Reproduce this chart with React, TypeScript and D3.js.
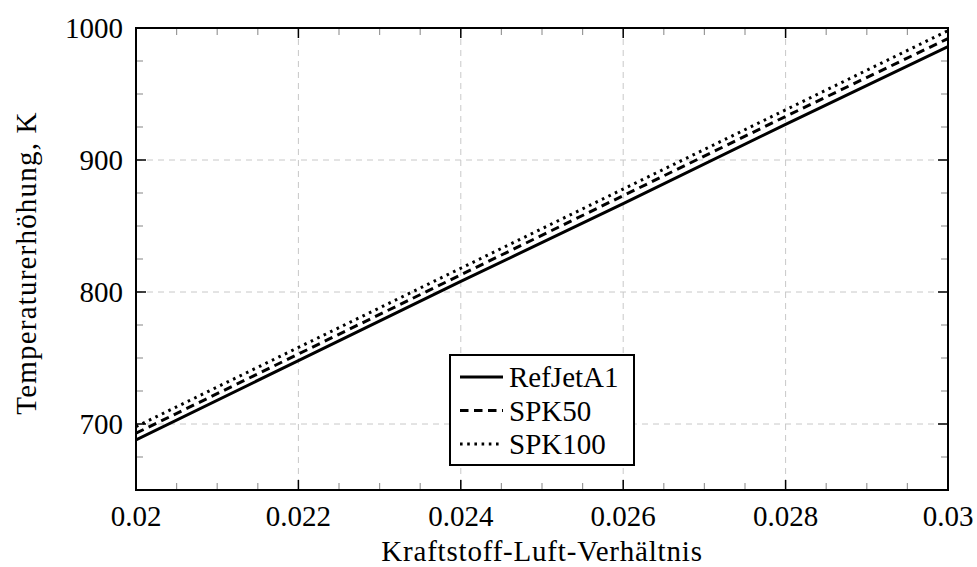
import React from "react";
import * as d3 from "d3";

const xValues = [0.02, 0.022, 0.024, 0.026, 0.028, 0.03];
const refJetA1 = [688, 748, 808, 867, 927, 986];
const spk50 = [693, 753, 813, 873, 933, 992];
const spk100 = [698, 758, 818, 878, 938, 998];
const seriesNames = ["RefJetA1", "SPK50", "SPK100"];
const xTicks = [0.02, 0.022, 0.024, 0.026, 0.028, 0.03];
const xTickLabels = ["0.02", "0.022", "0.024", "0.026", "0.028", "0.03"];
const yTicks = [700, 800, 900, 1000];
const xTitle = "Kraftstoff-Luft-Verhältnis";
const yTitle = "Temperaturerhöhung, K";

const W = 977;
const H = 567;
const M = { left: 136, right: 948, top: 28, bottom: 490 };
const FONT = "'Liberation Serif', serif";
const FS = 29;

export default function App() {
  const x = d3.scaleLinear().domain([0.02, 0.03]).range([M.left, M.right]);
  const y = d3.scaleLinear().domain([650, 1000]).range([M.bottom, M.top]);
  const line = d3
    .line<[number, number]>()
    .x((d) => x(d[0]))
    .y((d) => y(d[1]));
  const series = [refJetA1, spk50, spk100];
  const dashes = [undefined, "8.5,5.5", "2.6,4.6"];

  const xMinor = d3.range(0, 21).map((i) => 0.02 + i * 0.0005).filter((_, i) => i % 4 !== 0);
  const yMinor = d3.range(0, 15).map((i) => 650 + i * 25).filter((v) => v % 100 !== 0);
  const majorLen = 10;
  const minorLen = 7;

  return (
    <svg width={W} height={H} style={{ position: "absolute", left: 0, top: 0 }} xmlns="http://www.w3.org/2000/svg">
      <rect x={0} y={0} width={W} height={H} fill="#fff" />
      <g stroke="#c8c8c8" strokeWidth={1} strokeDasharray="6,5">
        {xTicks.slice(1, -1).map((t) => (
          <line key={"gx" + t} x1={x(t)} x2={x(t)} y1={M.top} y2={M.bottom} />
        ))}
        {yTicks.slice(0, -1).map((t) => (
          <line key={"gy" + t} x1={M.left} x2={M.right} y1={y(t)} y2={y(t)} />
        ))}
      </g>
      <g stroke="#999" strokeWidth={1.2}>
        {xMinor.map((t) => (
          <g key={"mx" + t}>
            <line x1={x(t)} x2={x(t)} y1={M.bottom} y2={M.bottom - minorLen} />
            <line x1={x(t)} x2={x(t)} y1={M.top} y2={M.top + minorLen} />
          </g>
        ))}
        {yMinor.map((t) => (
          <g key={"my" + t}>
            <line x1={M.left} x2={M.left + minorLen} y1={y(t)} y2={y(t)} />
            <line x1={M.right} x2={M.right - minorLen} y1={y(t)} y2={y(t)} />
          </g>
        ))}
      </g>
      <g stroke="#000" strokeWidth={1.5}>
        {xTicks.map((t) => (
          <g key={"Mx" + t}>
            <line x1={x(t)} x2={x(t)} y1={M.bottom} y2={M.bottom - majorLen} />
            <line x1={x(t)} x2={x(t)} y1={M.top} y2={M.top + majorLen} />
          </g>
        ))}
        {yTicks.map((t) => (
          <g key={"My" + t}>
            <line x1={M.left} x2={M.left + majorLen} y1={y(t)} y2={y(t)} />
            <line x1={M.right} x2={M.right - majorLen} y1={y(t)} y2={y(t)} />
          </g>
        ))}
      </g>
      <defs>
        <clipPath id="plotclip">
          <rect x={M.left} y={M.top} width={M.right - M.left} height={M.bottom - M.top} />
        </clipPath>
      </defs>
      <g clipPath="url(#plotclip)">
        {series.map((s, i) => (
          <path
            key={seriesNames[i]}
            d={line(xValues.map((xv, j) => [xv, s[j]] as [number, number])) || ""}
            fill="none"
            stroke="#000"
            strokeWidth={3}
            strokeDasharray={dashes[i]}
          />
        ))}
      </g>
      <rect x={M.left} y={M.top} width={M.right - M.left} height={M.bottom - M.top} fill="none" stroke="#000" strokeWidth={2} />
      <g fontFamily={FONT} fontSize={FS} fill="#000">
        {xTicks.map((t, i) => (
          <text key={"lx" + t} x={x(t)} y={526} textAnchor="middle">
            {xTickLabels[i]}
          </text>
        ))}
        {yTicks.map((t) => (
          <text key={"ly" + t} x={M.left - 13} y={y(t) + 10} textAnchor="end">
            {t}
          </text>
        ))}
        <text x={(M.left + M.right) / 2} y={561} textAnchor="middle" letterSpacing={0.8}>
          {xTitle}
        </text>
        <text transform={`translate(${36},${263}) rotate(-90)`} textAnchor="middle" letterSpacing={1.2}>
          {yTitle}
        </text>
      </g>
      <rect x={450} y={355} width={184} height={110} fill="#fff" stroke="#000" strokeWidth={2} />
      {seriesNames.map((n, i) => {
        const cy = 377 + i * 33.5;
        return (
          <g key={"lg" + n}>
            <line x1={460} x2={503} y1={cy} y2={cy} stroke="#000" strokeWidth={3} strokeDasharray={dashes[i]} />
            <text x={509} y={cy + 10} fontFamily={FONT} fontSize={FS} fill="#000">
              {n}
            </text>
          </g>
        );
      })}
    </svg>
  );
}
